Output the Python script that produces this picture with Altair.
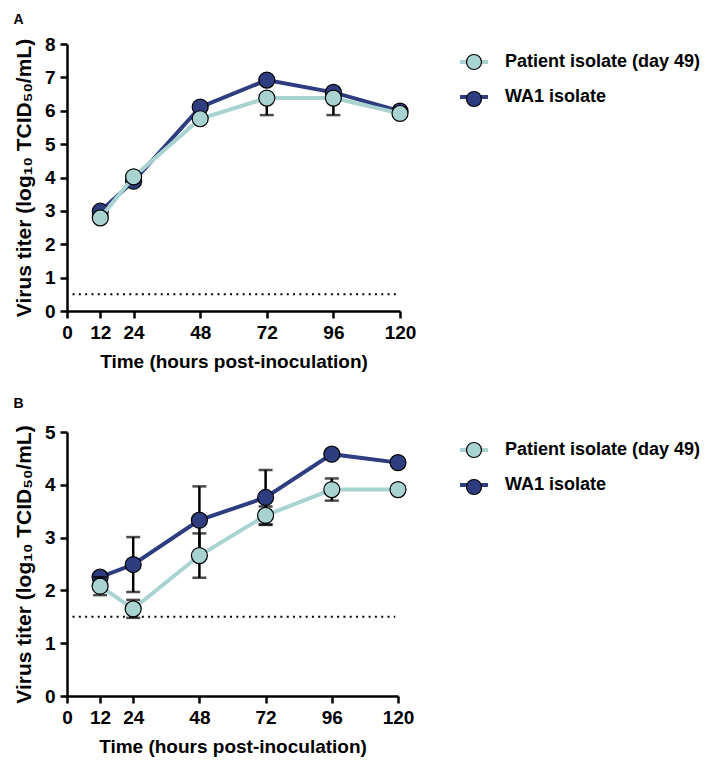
import altair as alt
import pandas as pd

hours = [12, 24, 48, 72, 96, 120]
series_names = ["Patient isolate (day 49)", "WA1 isolate"]
series_colors = ["#A8D3D1", "#2E3D80"]

# Panel A (error bars drawn below the mean only)
a_patient = [2.79, 4.02, 5.76, 6.38, 6.38, 5.92]
a_patient_err = [0, 0, 0, 0.51, 0.51, 0]
a_wa1 = [2.99, 3.89, 6.11, 6.92, 6.55, 5.99]
a_wa1_err = [0, 0, 0, 0, 0, 0]
a_lod = 0.5
a_ymax = 8

# Panel B
b_patient = [2.08, 1.65, 2.66, 3.42, 3.91, 3.91]
b_patient_err = [0.17, 0.17, 0.42, 0.17, 0.21, 0]
b_wa1 = [2.25, 2.49, 3.33, 3.76, 4.58, 4.42]
b_wa1_err = [0, 0.52, 0.64, 0.52, 0, 0]
b_lod = 1.5
b_ymax = 5

x_ticks = [0, 12, 24, 48, 72, 96, 120]
lod_span = [2, 119]

FONT = "Liberation Sans"
X_TITLE = "Time (hours post-inoculation)"
Y_TITLE = "Virus titer (log\u2081\u2080 TCID\u2085\u2080/mL)"
PT = "marker: "  # key prefix so the marker legend is not merged with the line legend


def frame(name, means, errs, upper):
    return pd.DataFrame({
        "series": name,
        "series_pt": PT + name,
        "hour": hours,
        "mean": means,
        "lo": [m - e for m, e in zip(means, errs)],
        "hi": [(m + e) if upper else m for m, e in zip(means, errs)],
        "err": errs,
    })


def panel(label, patient, patient_err, wa1, wa1_err, lod, ymax, upper,
          width, height, offset):
    xscale = alt.Scale(domain=[0, 120], nice=False)
    xaxis = alt.Axis(values=x_ticks, title=X_TITLE)
    xenc = alt.X("hour:Q", scale=xscale, axis=xaxis, title=X_TITLE)
    yscale = alt.Scale(domain=[0, ymax], nice=False)
    yaxis = alt.Axis(values=list(range(0, ymax + 1)), title=Y_TITLE)

    line_scale = alt.Scale(domain=series_names, range=series_colors)
    fill_scale = alt.Scale(domain=[PT + n for n in series_names], range=series_colors)
    common = dict(
        orient="none", legendY=9, title=None, padding=0,
        labelFont=FONT, labelFontSize=18, labelFontWeight="bold",
        labelLimit=400, rowPadding=17,
    )
    line_legend = alt.Legend(
        legendX=398, symbolType="M-2.3,0H2.3", symbolSize=149,
        symbolStrokeWidth=4, labelColor="black", labelOffset=22, **common,
    )
    fill_legend = alt.Legend(
        legendX=398, symbolType="circle", symbolSize=225,
        symbolStrokeColor="black", symbolStrokeWidth=1.2, symbolOpacity=1,
        labelExpr="''", labelOffset=22, **common,
    )

    lod_df = pd.DataFrame({"x": [lod_span[0]], "x2": [lod_span[1]], "y": [lod]})
    lod_layer = alt.Chart(lod_df).mark_rule(
        color="black", strokeWidth=2, strokeDash=[2, 4.3]
    ).encode(
        x=alt.X("x:Q", scale=xscale, axis=xaxis, title=X_TITLE),
        x2="x2:Q",
        y=alt.Y("y:Q", scale=yscale, axis=yaxis, title=Y_TITLE),
    )

    layers = [lod_layer]
    for name, means, errs in [(series_names[1], wa1, wa1_err),
                              (series_names[0], patient, patient_err)]:
        df = frame(name, means, errs, upper)
        base = alt.Chart(df)
        line = base.mark_line(strokeWidth=4).encode(
            x=xenc,
            y=alt.Y("mean:Q", scale=yscale, axis=yaxis, title=Y_TITLE),
            stroke=alt.Stroke("series:N", scale=line_scale, legend=line_legend),
        )
        layers.append(line)
        err_df = df[df["err"] > 0]
        if len(err_df):
            eb = alt.Chart(err_df).mark_errorbar(
                ticks=True, size=14, thickness=2.5, color="black"
            ).encode(
                x=xenc,
                y=alt.Y("lo:Q", scale=yscale, axis=yaxis, title=Y_TITLE),
                y2="hi:Q",
            )
            layers.append(eb)
        pts = base.mark_point(
            filled=True, shape="circle", size=256, stroke="black",
            strokeWidth=1.2, opacity=1
        ).encode(
            x=xenc,
            y=alt.Y("mean:Q", scale=yscale, axis=yaxis, title=Y_TITLE),
            fill=alt.Fill("series_pt:N", scale=fill_scale, legend=fill_legend),
        )
        layers.append(pts)

    return alt.layer(*layers).properties(
        width=width, height=height,
        title=alt.TitleParams(label, anchor="start", frame="bounds", font=FONT,
                              fontSize=14, fontWeight="bold", offset=offset),
    )


chart_a = panel("A", a_patient, a_patient_err, a_wa1, a_wa1_err, a_lod, a_ymax,
                False, 333, 267, 8)
chart_b = panel("B", b_patient, b_patient_err, b_wa1, b_wa1_err, b_lod, b_ymax,
                True, 331, 264, 12)

chart = alt.vconcat(chart_a, chart_b, spacing=26).resolve_scale(
    stroke="independent", fill="independent"
).resolve_legend(
    stroke="independent", fill="independent"
).configure_view(stroke=None).configure_axis(
    grid=False,
    domainColor="black", domainWidth=2.5,
    tickColor="black", tickWidth=2.5, tickSize=7,
    labelFont=FONT, labelFontSize=19, labelFontWeight="bold", labelColor="black",
    titleFont=FONT, titleFontWeight="bold", titleColor="black",
).configure_axisX(
    labelPadding=5, titleFontSize=19, titlePadding=10, labelFlush=False,
).configure_axisY(
    labelPadding=5, titleFontSize=21, titlePadding=10,
)

chart.save("out.html", embed_options={"renderer": "svg", "actions": False})
